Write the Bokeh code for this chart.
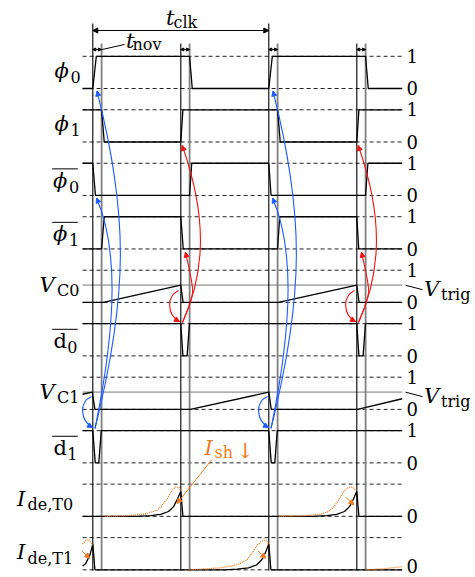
from bokeh.plotting import figure
from bokeh.models import Range1d, Arrow, NormalHead
from bokeh.embed import file_html
from bokeh.resources import INLINE
from bokeh.core.properties import value

# ---------------- data (time in clock periods, levels 0..1) ----------------
T_START, T_END = -0.058, 1.758
T_NOV = 0.05
VTRIG = 0.535

phi0_t = [T_START, 0.0, 0.02, 0.55, 0.565, 1.0, 1.02, 1.55, 1.565, T_END]
phi0_v = [0, 0, 1, 1, 0, 0, 1, 1, 0, 0]
phi1_t = [T_START, 0.05, 0.065, 0.5, 0.512, 1.05, 1.065, 1.5, 1.512, T_END]
phi1_v = [1, 1, 0, 0, 1, 1, 0, 0, 1, 1]
phi0b_t = [T_START, 0.0, 0.015, 0.55, 0.562, 1.0, 1.013, 1.55, 1.563, T_END]
phi0b_v = [1, 1, 0, 0, 1, 1, 0, 0, 1, 1]
phi1b_t = [T_START, 0.05, 0.065, 0.5, 0.514, 1.05, 1.062, 1.5, 1.511, T_END]
phi1b_v = [0, 0, 1, 1, 0, 0, 1, 1, 0, 0]
vc0_t = [T_START, 0.06, 0.5, 0.513, 1.055, 1.5, 1.513, T_END]
vc0_v = [0, 0, VTRIG, 0, 0, VTRIG, 0, 0]
d0b_t = [T_START, 0.5, 0.512, 0.536, 0.549, 1.5, 1.512, 1.536, 1.549, T_END]
d0b_v = [1, 1, 0, 0, 1, 1, 0, 0, 1, 1]
vc1_t = [T_START, -0.003, 0.012, 0.555, 1.0, 1.014, 1.505, T_END]
vc1_v = [0.47, VTRIG, 0, 0, VTRIG, 0, 0, 0.33]
d1b_t = [T_START, 0.0, 0.014, 0.034, 0.048, 1.0, 1.014, 1.034, 1.048, T_END]
d1b_v = [1, 1, 0, 0, 1, 1, 0, 0, 1, 1]
ideT0_t = [T_START, 0.25, 0.33, 0.385, 0.43, 0.46, 0.483, 0.5, 0.512,
           1.25, 1.33, 1.385, 1.43, 1.46, 1.483, 1.5, 1.512, T_END]
ideT0_v = [0, 0, 0.02, 0.06, 0.15, 0.31, 0.56, 0.78, 0,
           0, 0.02, 0.06, 0.15, 0.31, 0.56, 0.78, 0, 0]
ideT1_t = [T_START, -0.04, -0.017, 0.0, 0.012, 0.75, 0.82, 0.885, 0.93, 0.96, 0.983, 1.0, 1.012, T_END]
ideT1_v = [0.12, 0.2, 0.45, 0.8, 0, 0, 0.02, 0.06, 0.15, 0.31, 0.56, 0.8, 0, 0]
ishT0_a_t = [0.07, 0.2, 0.3, 0.366, 0.385, 0.423, 0.451, 0.47, 0.489, 0.5]
ishT0_a_v = [0, 0.02, 0.08, 0.19, 0.29, 0.55, 0.81, 0.91, 0.91, 0.78]
ishT0_b_t = [1.06, 1.2, 1.3, 1.34, 1.37, 1.396, 1.42, 1.445, 1.474, 1.497]
ishT0_b_v = [0, 0.02, 0.07, 0.155, 0.3, 0.5, 0.72, 0.88, 0.91, 0.81]
ishT1_a_t = [T_START, -0.04, -0.025, -0.01, 0.0]
ishT1_a_v = [0.8, 0.92, 0.94, 0.85, 0.75]
ishT1_b_t = [0.545, 0.726, 0.82, 0.877, 0.906, 0.934, 0.9625, 0.985, 1.0]
ishT1_b_v = [0, 0.06, 0.155, 0.31, 0.53, 0.77, 0.9, 0.93, 0.77]
ishT1_c_t = [1.55, 1.65, T_END]
ishT1_c_v = [0, 0.03, 0.1]

row_main = ["ϕ", "ϕ", "ϕ", "ϕ", "V", "d", "V", "d", "I", "I"]
row_sub = ["0", "1", "0", "1", "C0", "0", "C1", "1", "de,T0", "de,T1"]
row_bar = [False, False, True, True, False, True, False, True, False, False]
row_one_label = [True] * 8 + [False, False]
edge_black = [0.0, 0.5, 1.0, 1.5]
edge_grey = [0.0 + T_NOV, 0.5 + T_NOV, 1.0 + T_NOV, 1.5 + T_NOV]

# ---------------- layout ----------------
W, H = 475, 577
PX0, PXT = 92.3, 176.0        # pixel of t=0, pixels per period
PY0, UNIT, PITCH_PX = 88.0, 32.2, 53.48
PITCH = PITCH_PX / UNIT

def X(px): return (px - PX0) / PXT
def Y(py): return (PY0 - py) / UNIT
def off(i): return -i * PITCH
def lvl_px(i, v): return PY0 + i * PITCH_PX - v * UNIT

FONT = value("DejaVu Serif")
SIZES = {"main": 21, "sub": 16, "dig": 18}
BLUE, RED, ORANGE = "#1f5bff", "#f01414", "#f07a20"

p = figure(width=W, height=H, x_range=Range1d(X(0), X(W)), y_range=Range1d(Y(H), Y(0)),
           output_backend="svg", toolbar_location=None, min_border=0,
           x_axis_location=None, y_axis_location=None)
p.grid.visible = False
p.outline_line_color = None
p.background_fill_color = "white"
p.border_fill_color = "white"

signals = [(phi0_t, phi0_v), (phi1_t, phi1_v), (phi0b_t, phi0b_v), (phi1b_t, phi1b_v),
           (vc0_t, vc0_v), (d0b_t, d0b_v), (vc1_t, vc1_v), (d1b_t, d1b_v),
           (ideT0_t, ideT0_v), (ideT1_t, ideT1_v)]

# reference dashed levels
xs, ys = [], []
for i in range(10):
    for lv in (0, 1):
        xs.append([T_START, T_END]); ys.append([off(i) + lv, off(i) + lv])
p.multi_line(xs, ys, line_color="#222222", line_width=1, line_dash="4 3")
# trigger levels
for i in (4, 6):
    p.line([T_START, T_END], [off(i) + VTRIG] * 2, line_color="#b0b0b0", line_width=1.8)
    p.line([X(405), X(422)], [off(i) + VTRIG, Y(lvl_px(i, VTRIG) + 4.5)], line_color="black", line_width=1)

# vertical edge lines
bottom = Y(570)
for k, t in enumerate(edge_black):
    top = Y(23) if k % 2 == 0 else Y(43)
    p.line([t, t], [bottom, top], line_color="black", line_width=1.1)
for t in edge_grey:
    p.line([t, t], [bottom, Y(43)], line_color="#808080", line_width=1.8)

# signals
for i, (tt, vv) in enumerate(signals):
    p.line(tt, [off(i) + v for v in vv], line_color="black", line_width=1.3)

# shoot-through currents (dotted)
for i, (tt, vv) in [(8, (ishT0_a_t, ishT0_a_v)), (8, (ishT0_b_t, ishT0_b_v)),
                    (9, (ishT1_a_t, ishT1_a_v)), (9, (ishT1_b_t, ishT1_b_v)),
                    (9, (ishT1_c_t, ishT1_c_v))]:
    p.line(tt, [off(i) + v for v in vv], line_color=ORANGE, line_width=1.3, line_dash="1 1")

def head(color, size=5):
    return NormalHead(size=size, fill_color=color, line_color=color, line_width=1)

def arrow_px(x0, y0, x1, y1, color, size=5, start_head=False, lw=1.0):
    p.add_layout(Arrow(x_start=X(x0), y_start=Y(y0), x_end=X(x1), y_end=Y(y1),
                       end=head(color, size), start=head(color, size) if start_head else None,
                       line_color=color, line_width=lw))

def curve_px(P0, C1, C2, P3, color):
    p.bezier(x0=[X(P0[0])], y0=[Y(P0[1])], x1=[X(P3[0])], y1=[Y(P3[1])],
             cx0=[X(C1[0])], cy0=[Y(C1[1])], cx1=[X(C2[0])], cy1=[Y(C2[1])],
             line_color=color, line_width=1.1)
    dx, dy = P3[0] - C2[0], P3[1] - C2[1]
    n = (dx * dx + dy * dy) ** 0.5
    arrow_px(P3[0] - 2 * dx / n, P3[1] - 2 * dy / n, P3[0], P3[1], color, size=5)

# causal arrows, period 1 (shifted by one period for period 2)
causal = [
    (BLUE, (91, 396), (78, 402), (80, 420), (92, 427)),
    (BLUE, (94.5, 428), (128, 294), (128, 214), (96.5, 90.5)),
    (BLUE, (94.5, 428), (117, 319), (117, 246), (96, 197.5)),
    (RED, (178, 290), (166, 296), (166, 314), (179, 321)),
    (RED, (182, 322), (206, 269), (206, 214), (181.7, 145)),
    (RED, (182, 322), (195, 290), (195, 296), (185, 251.7)),
]
for k in (0, 1):
    s = k * PXT
    for c, a, b, d, e in causal:
        curve_px((a[0] + s, a[1]), (b[0] + s, b[1]), (d[0] + s, d[1]), (e[0] + s, e[1]), c)

# top timing annotations
arrow_px(PX0, 30, PX0 + PXT, 30, "black", size=5, start_head=True)
for t in edge_black:
    x0 = PX0 + t * PXT
    arrow_px(x0, 49, x0 + T_NOV * PXT, 49, "black", size=3, start_head=True)
p.line([X(101.7), X(124)], [Y(49), Y(44)], line_color="black", line_width=1)

def txt(xpx, ypx, s, kind, style="normal", color="black"):
    size = SIZES[kind]
    ypx = ypx - 0.38 * size   # renderer places glyphs lower than the nominal baseline
    p.text(x=[X(xpx)], y=[Y(ypx)], text=[s], text_font=FONT, text_font_size=value(f"{size}px"),
           text_font_style=style, text_color=color, text_align="left", text_baseline="alphabetic")

txt(165.5, 25, "t", "main", "italic"); txt(173, 28, "clk", "sub")
txt(125.5, 48, "t", "main", "italic"); txt(132, 50.5, "nov", "sub")

# left labels
main_x = {"ϕ": 54, "V": 39, "d": 53, "I": 16.5}
sub_x = {"ϕ": 70, "V": 56.5, "d": 66.7, "I": 27}
for i in range(10):
    mid = (lvl_px(i, 0) + lvl_px(i, 1)) / 2
    m = row_main[i]
    extra = 3 if row_bar[i] else 0
    mx = main_x[m] - (1.5 if (row_bar[i] and m == "ϕ") else 0)
    sx = sub_x[m] - (1.5 if (row_bar[i] and m == "ϕ") else 0)
    txt(mx, mid + 6.5 + extra, m, "main", "normal" if m == "d" else "italic")
    txt(sx, mid + 10.5 + extra, row_sub[i], "sub")
    if row_bar[i]:
        p.line([X(51.7), X(77.3)], [Y(mid - 10.5)] * 2, line_color="black", line_width=1)

# right level labels
for i in range(10):
    if row_one_label[i]:
        txt(406, lvl_px(i, 1) + 6.5, "1", "dig")
    txt(406, min(lvl_px(i, 0) + 6.5, 572.0), "0", "dig")
for i in (4, 6):
    yv = lvl_px(i, VTRIG)
    txt(423.5, yv + 12, "V", "main", "italic")
    txt(440.5, yv + 15, "trig", "sub")

# shoot-through annotation
txt(204, 455.7, "I", "main", "italic", ORANGE)
txt(214, 458.5, "sh", "sub", "normal", ORANGE)
txt(236, 458, "↓", "main", "normal", ORANGE)
arrow_px(211, 459.5, 176.5, 503, ORANGE, size=5)
for (i, tpk) in [(8, 1.5), (9, 0.0), (9, 1.0)]:
    xp, yb = PX0 + tpk * PXT, lvl_px(i, 0)
    arrow_px(xp - 11, yb - 19, xp - 3, yb - 11.5, ORANGE, size=5)

open("out.html", "w", encoding="utf-8").write(file_html(p, INLINE, "timing"))
